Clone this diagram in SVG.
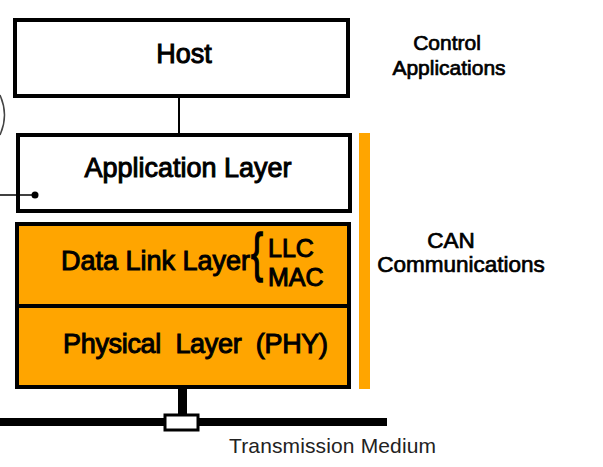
<svg xmlns="http://www.w3.org/2000/svg" width="603" height="467" viewBox="0 0 603 467">
<style>
.box{fill:#fff;stroke:#000;stroke-width:4}
.obox{fill:#FFA500;stroke:#000;stroke-width:4}
.t{font-family:"Liberation Sans",Arial,sans-serif;fill:#000;stroke:#000;stroke-width:1}
.s{font-family:"Liberation Sans",Arial,sans-serif;fill:#000;stroke:#000;stroke-width:0.7}
.m{font-family:"Liberation Sans",Arial,sans-serif;fill:#222}
</style>
<rect width="603" height="467" fill="#fff"/>
<g id="host">
<rect class="box" x="15" y="20" width="333" height="76"/>
<text class="t" x="184" y="63" font-size="27" text-anchor="middle">Host</text>
</g>
<g id="application-layer">
<rect class="box" x="18" y="135" width="332" height="76"/>
<text class="t" x="188" y="177" font-size="27" text-anchor="middle">Application Layer</text>
</g>
<g id="data-link-layer">
<rect class="obox" x="17" y="224" width="332" height="82"/>
<text class="t" x="61" y="270" font-size="27">Data Link Layer</text>
<text class="t" transform="translate(251,271.3) scale(1,1.5)" font-size="36">{</text>
<text class="t" x="268" y="257" font-size="25">LLC</text>
<text class="t" x="268" y="286" font-size="25">MAC</text>
</g>
<g id="physical-layer">
<rect class="obox" x="17" y="306" width="332" height="81"/>
<text class="t" x="63" y="353" font-size="27" textLength="265" lengthAdjust="spacing" xml:space="preserve">Physical  Layer  (PHY)</text>
</g>
<g id="can-bar">
<rect x="359" y="133" width="11" height="256" fill="#FFA500"/>
</g>
<g id="connectors">
<line x1="179" y1="97" x2="179" y2="133" stroke="#000" stroke-width="2"/>
<line x1="0" y1="195" x2="35" y2="195" stroke="#000" stroke-width="1.5"/>
<circle cx="35" cy="195" r="3.5" fill="#000"/>
<path d="M0,95 Q9,115 0,135" fill="none" stroke="#444" stroke-width="1.5"/>
<rect x="178" y="389" width="9" height="27" fill="#000"/>
<rect x="0" y="418" width="387" height="8" fill="#000"/>
</g>
<g id="tap">
<rect x="165" y="415" width="33" height="15" fill="#fff" stroke="#000" stroke-width="3"/>
</g>
<g id="labels">
<text class="s" x="447" y="50" font-size="21" text-anchor="middle">Control</text>
<text class="s" x="449" y="74.5" font-size="21" text-anchor="middle">Applications</text>
<text class="s" x="451" y="248" font-size="22.5" text-anchor="middle">CAN</text>
<text class="s" x="461" y="272" font-size="22.5" text-anchor="middle">Communications</text>
<text class="m" x="229" y="453" font-size="21" textLength="207" lengthAdjust="spacing">Transmission Medium</text>
</g>
</svg>
